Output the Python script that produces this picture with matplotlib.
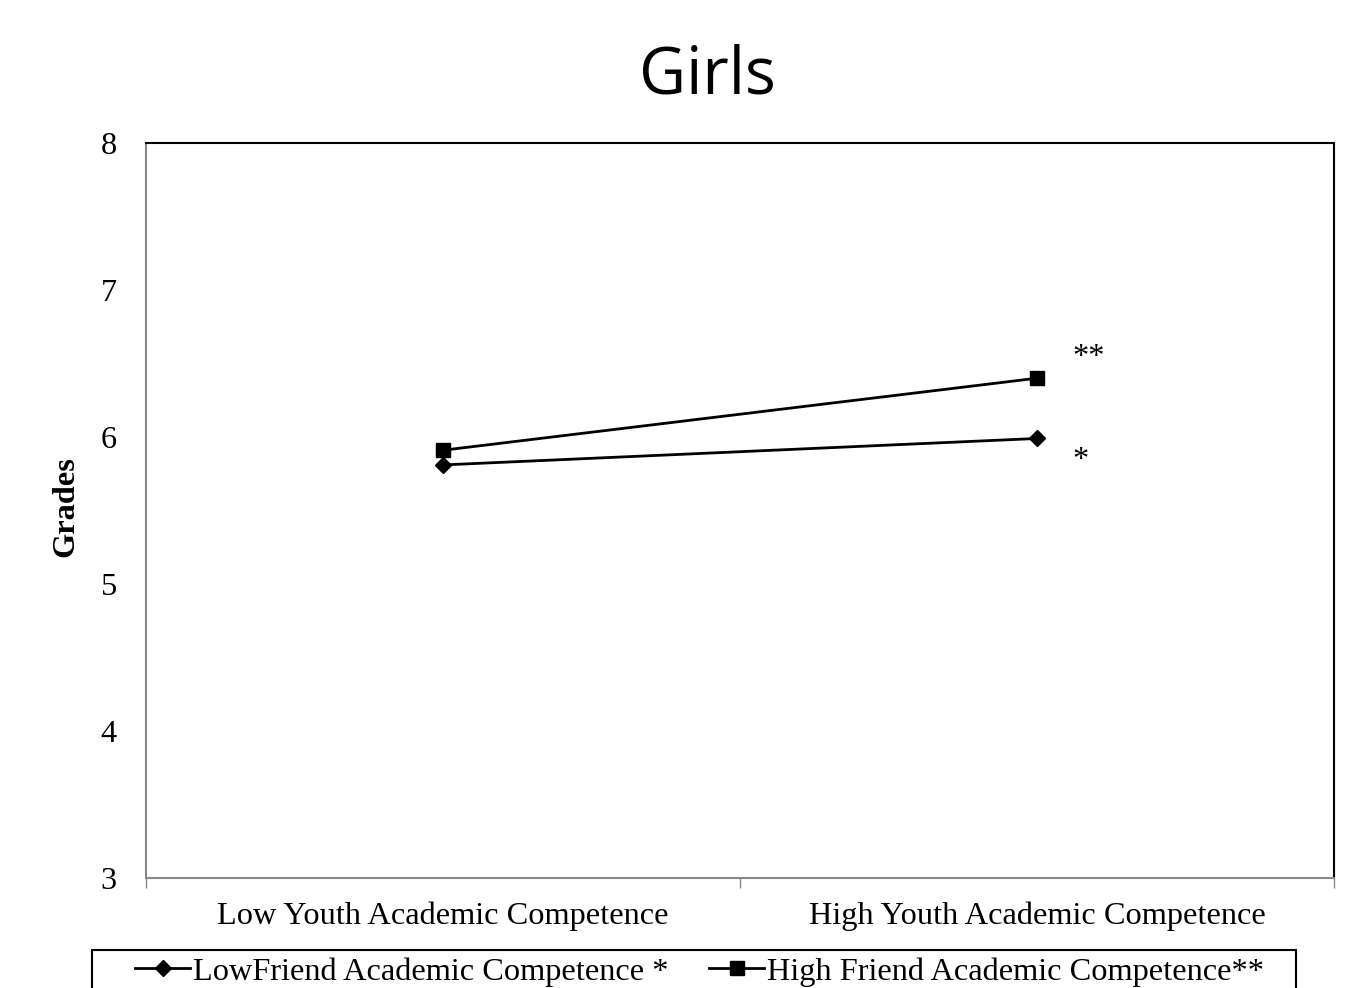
import matplotlib
matplotlib.use("Agg")
import matplotlib.pyplot as plt
from matplotlib.patches import Rectangle

categories = ["Low Youth Academic Competence", "High Youth Academic Competence"]
low_friend = [5.81, 5.99]
high_friend = [5.91, 6.40]
series_labels = ["LowFriend Academic Competence *", "High Friend Academic Competence**"]
annotations = [("**", 6.54), ("*", 5.84)]
yticks = [3, 4, 5, 6, 7, 8]

plt.rcParams['font.family'] = ['Liberation Serif', 'DejaVu Serif']
FS = 23.3
W, H = 1346, 988

fig = plt.figure(figsize=(W/100, H/100), dpi=100)
ax = fig.add_axes([146/W, 1-878/H, (1334-146)/W, (878-143)/H])

x = list(range(len(categories)))
ax.plot(x, low_friend, color='black', lw=2, marker='D', markersize=8, label=series_labels[0])
ax.plot(x, high_friend, color='black', lw=2, marker='s', markersize=10, label=series_labels[1])

for txt, yv in annotations:
    ax.text(1.06, yv, txt, fontsize=FS, ha='left', va='center')

ax.set_xlim(-0.5, 1.5)
ax.set_ylim(3, 8)
ax.set_yticks(yticks)
ax.set_yticklabels([str(t) for t in yticks], fontsize=FS)
ax.tick_params(axis='y', length=0, pad=21)
ax.set_xticks([-0.5, 0.5, 1.5])
ax.set_xticklabels([])
ax.set_xticks(x, minor=True)
ax.set_xticklabels(categories, minor=True, fontsize=FS)
ax.tick_params(axis='x', which='major', direction='out', length=7, color='#888888', width=1)
ax.tick_params(axis='x', which='minor', length=0, pad=17)

for side in ['left', 'bottom']:
    ax.spines[side].set_color('#888888')
    ax.spines[side].set_linewidth(1.5)
for side in ['top', 'right']:
    ax.spines[side].set_color('black')
    ax.spines[side].set_linewidth(1.5)

fig.text(66/W, 1-507/H, "Grades", fontsize=FS, fontweight='bold', rotation=90,
         ha='center', va='center')

fig.text(707/W, 1-94/H, "Girls", fontsize=46.5, ha='center', va='baseline',
         family=['Open Sans', 'DejaVu Sans'])

# legend frame
fig.patches.append(Rectangle((92/W, 1-1010/H), (1296-92)/W, 60/H, transform=fig.transFigure,
                             fill=False, edgecolor='black', linewidth=1.5, zorder=5))
leg = fig.legend(loc='center left', bbox_to_anchor=(135/W, 1-972/H), ncol=2,
                 fontsize=FS, frameon=False,
                 handlelength=1.7, handletextpad=0.08, columnspacing=1.27,
                 borderpad=0, borderaxespad=0)

fig.savefig("out.png", dpi=100)
